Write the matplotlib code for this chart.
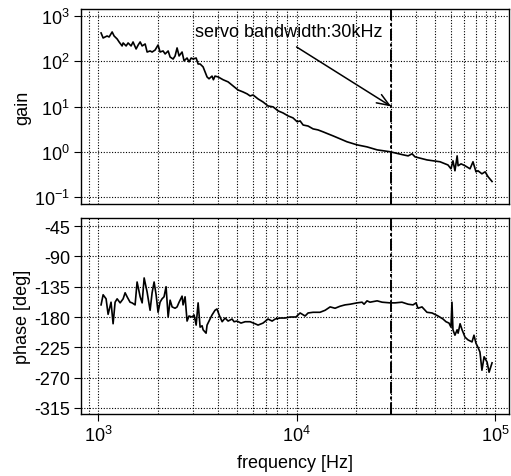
import numpy as np
import matplotlib
matplotlib.use('Agg')
import matplotlib.pyplot as plt
from matplotlib.ticker import LogLocator, NullFormatter, FixedLocator

plt.rcParams['font.family'] = ['Liberation Sans', 'DejaVu Sans']
plt.rcParams['mathtext.fontset'] = 'custom'
plt.rcParams['mathtext.rm'] = 'Liberation Sans'
plt.rcParams['mathtext.it'] = 'Liberation Sans'

# gain curve (Hz, gain)
gain_f = [1035, 1060, 1110, 1136, 1177, 1204, 1247, 1276, 1321, 1337, 1384, 1416, 1466, 1500,
          1554, 1592, 1629, 1667, 1726, 1766, 1828, 1871, 1937, 2005, 2052, 2125, 2177, 2254,
          2306, 2387, 2443, 2500, 2559, 2649, 2711, 2807, 2872, 2944, 3013, 3119, 3191, 3266,
          3381, 3540, 3622, 3750, 3810, 3882, 4027, 4266, 4519, 4786, 5070, 5370, 5636, 5834,
          6039, 6397, 6776, 7178, 7621, 8072, 8551, 9057, 9594, 10070, 10420, 10790, 11430,
          12110, 12820, 13610, 14420, 15280, 16560, 17950, 20180, 22650, 25470, 29580, 34430,
          36480, 38190, 39540, 45400, 52840, 57940, 59980, 61380, 62810, 64420, 65160, 67450,
          70630, 74820, 77450, 80170, 82040, 85900, 89130, 92260, 96610]
gain_v = [422, 327, 362, 344, 444, 362, 311, 267, 218, 254, 218, 254, 218, 267,
          187, 229, 267, 218, 241, 160, 169, 160, 177, 229, 160, 169, 145, 169,
          124, 112, 131, 197, 131, 160, 102, 118, 97, 118, 112, 118, 87, 87,
          75, 45, 41, 47, 39, 47, 45, 39, 35, 28.5, 23.2, 21.0, 19.0, 17.1,
          18.0, 14.7, 12.6, 10.3, 9.8, 8.0, 7.2, 6.2, 5.6, 4.6, 4.8, 3.9, 3.7,
          3.2, 3.04, 2.75, 2.48, 2.24, 1.93, 1.66, 1.42, 1.28, 1.10, 1.0, 0.855,
          0.81, 0.90, 0.77, 0.66, 0.60, 0.51, 0.42, 0.63, 0.38, 0.81, 0.49, 0.54,
          0.49, 0.42, 0.60, 0.36, 0.38, 0.325, 0.36, 0.28, 0.22]

# phase curve (Hz, deg)
phase_f = [1035, 1060, 1097, 1123, 1162, 1190, 1218, 1247, 1291, 1337, 1368, 1400, 1449, 1483,
           1536, 1572, 1629, 1667, 1706, 1766, 1786, 1828, 1871, 1915, 1960, 2005, 2052, 2100,
           2149, 2200, 2254, 2306, 2360, 2443, 2500, 2559, 2649, 2680, 2743, 2807, 2872, 2976,
           3046, 3119, 3191, 3266, 3342, 3381, 3500, 3540, 3622, 3750, 3882, 3972, 4074, 4217,
           4365, 4519, 4732, 4842, 5012, 5248, 5508, 5834, 6180, 6397, 6776, 7178, 7530, 7800,
           8260, 8750, 9270, 9930, 10420, 11040, 11430, 12110, 13120, 13930, 14760, 15630,
           16560, 17540, 18620, 20180, 21380, 21880, 22650, 23440, 25470, 26980, 29580, 31330,
           33960, 36480, 38640, 39990, 40930, 42850, 45400, 48170, 51640, 54700, 56620, 58620,
           59980, 60680, 61380, 62810, 64420, 65160, 66680, 68230, 70630, 73110, 76560, 78340,
           80170, 82040, 83950, 85900, 88100, 91200, 93330, 96610]
phase_v = [-162, -147, -153, -176, -158, -190, -158, -153, -159, -153, -144, -150, -158, -159,
           -162, -128, -150, -159, -122, -143, -152, -170, -144, -128, -147, -173, -158, -153,
           -150, -135, -180, -155, -165, -167, -165, -158, -149, -162, -150, -186, -178.5, -180,
           -177, -192, -159, -195, -193, -199, -204, -192, -186, -177, -170, -168, -177, -187,
           -181.5, -186, -183, -187, -186, -189, -187, -187, -190, -192, -189, -183, -186, -183,
           -181.5, -181.5, -180, -180, -174, -178.5, -174, -173, -173, -170, -165, -167,
           -164, -162, -161, -159, -158, -161, -156, -158, -156, -158, -159, -159,
           -158, -161, -162, -159, -167, -165, -173, -174, -178.5, -183, -187, -189,
           -195, -158, -199, -207, -199, -204, -190, -199, -210, -214, -217, -207,
           -219, -225, -232, -259, -239, -247, -262, -248]

bandwidth = 3e4
phase_ticks = [-45, -90, -135, -180, -225, -270, -315]

fig = plt.figure(figsize=(5.11, 4.77), dpi=100)
ax1 = fig.add_axes([81/511, 1-205/477, 428/511, 195/477])
ax2 = fig.add_axes([81/511, 1-415/477, 428/511, 196/477])

grid_kw = dict(color='black', linestyle=(0, (1, 1.5)), linewidth=0.8)

for ax in (ax1, ax2):
    ax.set_xscale('log')
    ax.set_xlim(820, 1.176e5)
    ax.xaxis.set_major_locator(LogLocator(base=10))
    ax.xaxis.set_minor_locator(LogLocator(base=10, subs=np.arange(2, 10)))
    ax.xaxis.set_minor_formatter(NullFormatter())
    ax.grid(True, which='both', axis='x', **grid_kw)
    ax.grid(True, which='major', axis='y', **grid_kw)
    ax.axvline(bandwidth, color='black', linestyle=(0, (6, 1.5, 1.5, 1.5)), linewidth=1.4)
    ax.tick_params(which='minor', length=0)
    ax.tick_params(which='major', direction='out', length=5, width=0.8, labelsize=13, pad=3)
    for s in ax.spines.values():
        s.set_linewidth(1.0)
    ax.set_axisbelow(True)

ax1.plot(gain_f, gain_v, color='black', linewidth=1.2)
ax1.set_yscale('log')
ax1.set_ylim(10**-1.155, 10**3.155)
ax1.yaxis.set_major_locator(FixedLocator([0.1, 1, 10, 100, 1000]))
ax1.yaxis.set_minor_locator(FixedLocator([]))
ax1.tick_params(axis='x', which='both', bottom=False, labelbottom=False)
ax1.set_ylabel('gain', fontsize=13, labelpad=2)
ax1.text(3085, 444, 'servo bandwidth:30kHz', fontsize=13, va='center', ha='left')
ax1.annotate('', xy=(bandwidth, 10), xytext=(1e4, 207),
             arrowprops=dict(arrowstyle='->,head_length=0.9,head_width=0.35',
                             color='black', linewidth=1.1, shrinkA=0, shrinkB=0))

ax2.plot(phase_f, phase_v, color='black', linewidth=1.2)
ax2.set_ylim(-324, -33)
ax2.set_yticks(phase_ticks)
ax2.set_yticklabels([str(t) for t in phase_ticks])
ax2.set_ylabel('phase [deg]', fontsize=13, labelpad=2)
ax2.set_xlabel('frequency [Hz]', fontsize=13, labelpad=6)

fig.savefig('out.png', dpi=100)
